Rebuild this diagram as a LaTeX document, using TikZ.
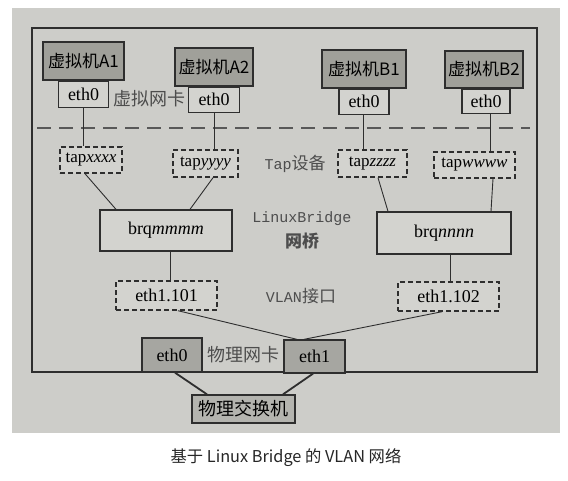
\documentclass[tikz,border=0pt]{standalone}
\usepackage{fontspec}
\setmainfont{Liberation Serif}
\setmonofont{Liberation Mono}
\newfontfamily\cjk{Noto Sans CJK SC}
\newfontfamily\capfont{Noto Sans CJK SC}
\usetikzlibrary{calc}
\definecolor{paper}{HTML}{CDCDC9}
\definecolor{vmfill}{HTML}{A0A09A}
\definecolor{nicfill}{HTML}{D3D3CF}
\definecolor{physfill}{HTML}{A6A6A1}
\definecolor{swfill}{HTML}{B4B4AF}
\definecolor{ink}{HTML}{2E2E2E}
\tikzset{
  box/.style={draw=ink, line width=1.3pt, inner sep=0pt, font=\fontsize{18}{20}\selectfont},
  vmbox/.style={box, fill=vmfill, font=\cjk\fontsize{17}{19}\selectfont},
  nicbox/.style={box, fill=nicfill},
  tapbox/.style={box, fill=nicfill, dashed, dash pattern=on 5pt off 3pt, line width=1.4pt, font=\fontsize{17}{19}\selectfont},
  brbox/.style={box, fill=nicfill, font=\fontsize{18}{20}\selectfont},
  physbox/.style={box, fill=physfill, font=\fontsize{18}{20}\selectfont},
  swbox/.style={box, fill=swfill, font=\cjk\fontsize{18}{20}\selectfont},
  lbl/.style={text=ink!85, inner sep=0pt, font=\cjk\fontsize{18}{20}\selectfont},
  monolbl/.style={text=ink!85, inner sep=0pt, font=\ttfamily\fontsize{15}{17}\selectfont},
  wire/.style={draw=ink, line width=0.9pt},
  thickwire/.style={draw=ink, line width=1.8pt},
}
\begin{document}
\begin{tikzpicture}[x=1pt,y=-1pt]
\useasboundingbox (0,0) rectangle (568,480);
\fill[white] (0,0) rectangle (568,480);
\fill[paper] (12,8) rectangle (560,433);
\draw[ink, line width=1.3pt] (32,28) rectangle (537,372);
\coordinate (dl) at (37,128);
\coordinate (dr) at (530,128);
\draw[ink!80, line width=1.6pt, dash pattern=on 14pt off 8pt] (dl) -- (dr);

% virtual machines
\node[vmbox, minimum width=81pt, minimum height=38pt] (vma1) at (83.5,61) {虚拟机A1};
\node[vmbox, minimum width=78pt, minimum height=38pt] (vma2) at (214,67) {虚拟机A2};
\node[vmbox, minimum width=84pt, minimum height=38pt] (vmb1) at (364,69) {虚拟机B1};
\node[vmbox, minimum width=78pt, minimum height=37pt] (vmb2) at (484,69.5) {虚拟机B2};

% virtual NICs
\node[nicbox, minimum width=50pt, minimum height=26pt, anchor=north] (ea1) at (vma1.south) {eth0};
\node[nicbox, minimum width=51pt, minimum height=25pt, anchor=north] (ea2) at (vma2.south) {eth0};
\node[nicbox, minimum width=50pt, minimum height=25pt, anchor=north] (eb1) at (vmb1.south) {eth0};
\node[nicbox, minimum width=48pt, minimum height=24pt, anchor=north] (eb2) at ([xshift=2pt]vmb2.south) {eth0};
\node[lbl] (vnic) at (149,99) {虚拟网卡};

% tap devices
\node[tapbox, minimum width=62pt, minimum height=26pt] (ta1) at (91,160) {tap\textit{xxxx}};
\node[tapbox, minimum width=65pt, minimum height=27pt] (ta2) at (205.5,163.5) {tap\textit{yyyy}};
\node[tapbox, minimum width=69pt, minimum height=27pt] (tb1) at (372.5,163.5) {tap\textit{zzzz}};
\node[tapbox, minimum width=81pt, minimum height=26pt] (tb2) at (474.5,165) {tap\textit{wwww}};
\node[inner sep=0pt, text=ink!85] (taplbl) at (295,164) {{\ttfamily\fontsize{15}{17}\selectfont Tap}{\cjk\fontsize{17}{19}\selectfont 设备}};

% bridges
\node[brbox, minimum width=132pt, minimum height=41pt] (br1) at (166,230.5) {brq\textit{mmmm}};
\node[brbox, minimum width=134pt, minimum height=42pt] (br2) at (444,233) {brq\textit{nnnn}};
\node[monolbl] (lbr) at (302,219) {LinuxBridge};
\node[lbl, font=\cjk\bfseries\fontsize{17}{19}\selectfont] (lbr2) at (302,241) {网桥};

% vlan interfaces
\node[tapbox, font=\fontsize{18}{20}\selectfont, minimum width=101pt, minimum height=29pt] (v1) at (166.5,295.5) {eth1.101};
\node[tapbox, font=\fontsize{18}{20}\selectfont, minimum width=101pt, minimum height=29pt] (v2) at (448.5,296.5) {eth1.102};
\node[inner sep=0pt, text=ink!85] (vlbl) at (301,296) {{\ttfamily\fontsize{15}{17}\selectfont VLAN}{\cjk\fontsize{17}{19}\selectfont 接口}};

% physical NICs and switch
\node[physbox, minimum width=60pt, minimum height=34pt] (p0) at (172,355) {eth0};
\node[physbox, minimum width=61pt, minimum height=33pt] (p1) at (314.5,356.5) {eth1};
\node[lbl] (pnic) at (243,355) {物理网卡};
\node[swbox, minimum width=103pt, minimum height=28pt] (sw) at (243.5,409) {物理交换机};

% caption
\node[inner sep=0pt, text=black!85, font=\capfont\fontsize{16.3}{19}\selectfont] (cap) at (286,458) {基于 Linux Bridge 的 VLAN 网络};

% connectors
\draw[wire] (ea1.south) -- (ea1.south |- ta1.north);
\draw[wire] (ea2.south) -- (ea2.south |- ta2.north);
\draw[wire] ([xshift=-1pt]eb1.south) -- ([xshift=-1pt]eb1.south |- tb1.north);
\draw[wire] ([xshift=4pt]eb2.south) -- ([xshift=4pt]eb2.south |- tb2.north);

\draw[wire] ([xshift=-6pt]ta1.south) -- ([xshift=-50pt]br1.north);
\draw[wire] ([xshift=7.5pt]ta2.south) -- ([xshift=24pt]br1.north);
\draw[wire] ([xshift=5.5pt]tb1.south) -- ([xshift=-56pt]br2.north);
\draw[wire] ([xshift=18.5pt]tb2.south) -- ([xshift=47pt]br2.north);

\draw[wire] ([xshift=4pt]br1.south) -- ([xshift=4pt]br1.south |- v1.north);
\draw[wire] ([xshift=6pt]br2.south) -- ([xshift=6pt]br2.south |- v2.north);

\draw[wire] ([xshift=11.5pt]v1.south) -- ([xshift=-17.5pt]p1.north);
\draw[wire] ([xshift=-6.5pt]v2.south) -- ([xshift=-10.5pt]p1.north);

\draw[thickwire] ([xshift=3pt]p0.south) -- ([xshift=-36.5pt]sw.north);
\draw[thickwire] ([xshift=-1.5pt]p1.south) -- ([xshift=39.5pt]sw.north);
\end{tikzpicture}
\end{document}
